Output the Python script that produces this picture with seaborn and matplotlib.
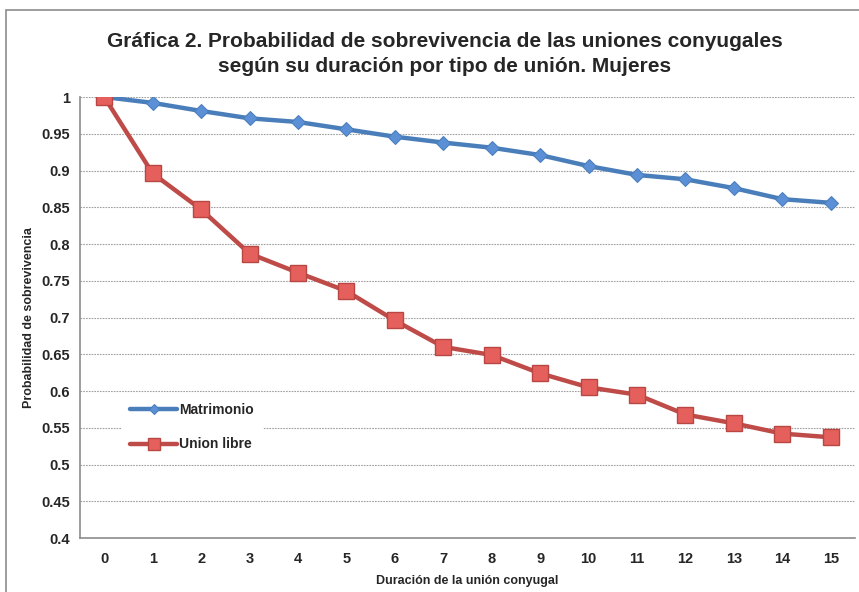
import pandas as pd
import numpy as np
import matplotlib
matplotlib.use("Agg")
import matplotlib.pyplot as plt
import seaborn as sns
from matplotlib.patches import Rectangle
from matplotlib.ticker import FixedLocator


# DATA

duracion = list(range(16))

matrimonio = [1.0, 0.992, 0.981, 0.971, 0.966, 0.956, 0.946, 0.938,
              0.931, 0.921, 0.906, 0.894, 0.888, 0.876, 0.861, 0.856]

union_libre = [1.0, 0.896, 0.847, 0.787, 0.761, 0.736, 0.696, 0.660,
               0.649, 0.624, 0.605, 0.595, 0.568, 0.556, 0.542, 0.537]

series_names = ["Matrimonio", "Union libre"]

y_ticks = [0.4, 0.45, 0.5, 0.55, 0.6, 0.65, 0.7, 0.75, 0.8, 0.85, 0.9, 0.95, 1.0]

titulo = ("Gráfica 2. Probabilidad de sobrevivencia de las uniones conyugales\n"
          "según su duración por tipo de unión. Mujeres")


df = pd.DataFrame({
    "Duracion": duracion * 2,
    "Prob": matrimonio + union_libre,
    "Tipo": [series_names[0]] * 16 + [series_names[1]] * 16,
})


# STYLE

sns.set_style("white")
plt.rcParams["font.family"] = ["Liberation Sans", "DejaVu Sans"]

fig = plt.figure(figsize=(8.59, 5.92), dpi=100)
ax = fig.add_axes([80 / 859, 1 - 538 / 592, 775 / 859, (538 - 97) / 592])

# outer chart border (Excel chart area)
fig.patches.append(Rectangle((6 / 859, -0.05), 1.2, 1 - 10 / 592 + 0.05,
                             transform=fig.transFigure, fill=False,
                             edgecolor="#8c8c8c", linewidth=1.2))


# LINES

sns.lineplot(data=df[df["Tipo"] == "Matrimonio"], x="Duracion", y="Prob",
             color="#4A7EBB", linewidth=3.2, marker="D",
             markersize=7, markerfacecolor="#5B8FD6", markeredgecolor="#4A7EBB",
             label="Matrimonio", ax=ax, zorder=3)

sns.lineplot(data=df[df["Tipo"] == "Union libre"], x="Duracion", y="Prob",
             color="#BE4B48", linewidth=3.2, marker="s",
             markersize=11, markerfacecolor="#E5605C", markeredgecolor="#B84744",
             markeredgewidth=1, label="Union libre", ax=ax, zorder=4)


# AXES

ax.set_xlim(-0.5, 15.5)
ax.set_ylim(0.4, 1.0)
ax.xaxis.set_major_locator(FixedLocator(duracion))
ax.xaxis.set_minor_locator(FixedLocator(np.arange(-0.5, 16, 1)))
ax.set_yticks(y_ticks)
ax.set_yticklabels([f"{v:g}" for v in y_ticks])

ax.tick_params(axis="x", which="major", length=0, pad=10, labelsize=10.5)
ax.tick_params(axis="x", which="minor", length=4, color="#8c8c8c", direction="out")
ax.tick_params(axis="y", length=4, color="#8c8c8c", direction="out", pad=3, labelsize=10.5)
for lab in ax.get_xticklabels() + ax.get_yticklabels():
    lab.set_fontweight("bold")

ax.grid(axis="y", linestyle=(0, (1.5, 1)), color="#a0a0a0", linewidth=0.8)
ax.set_axisbelow(True)

sns.despine(ax=ax, top=True, right=True)
ax.spines["left"].set_color("#8c8c8c")
ax.spines["bottom"].set_color("#8c8c8c")
ax.spines["left"].set_linewidth(1.2)
ax.spines["bottom"].set_linewidth(1.2)

ax.set_xlabel("Duración de la unión conyugal", fontsize=9, fontweight="bold")
ax.xaxis.set_label_coords(0.5, -0.085)
ax.set_ylabel("Probabilidad de sobrevivencia", fontsize=9, fontweight="bold")
ax.yaxis.set_label_coords(-0.058, 0.5)

fig.text(445 / 859, 1 - 54 / 592, titulo, ha="center", va="center",
         fontsize=15, fontweight="bold", linespacing=1.4)

leg = ax.legend(loc="upper left", bbox_to_anchor=(0.045, 0.34), frameon=True,
                facecolor="white", edgecolor="white", framealpha=1,
                fontsize=10, handlelength=3.4, handletextpad=0.1,
                labelspacing=1.45, borderpad=0.6, markerscale=0.75)
for t in leg.get_texts():
    t.set_fontweight("bold")

fig.savefig("out.png", dpi=100)
